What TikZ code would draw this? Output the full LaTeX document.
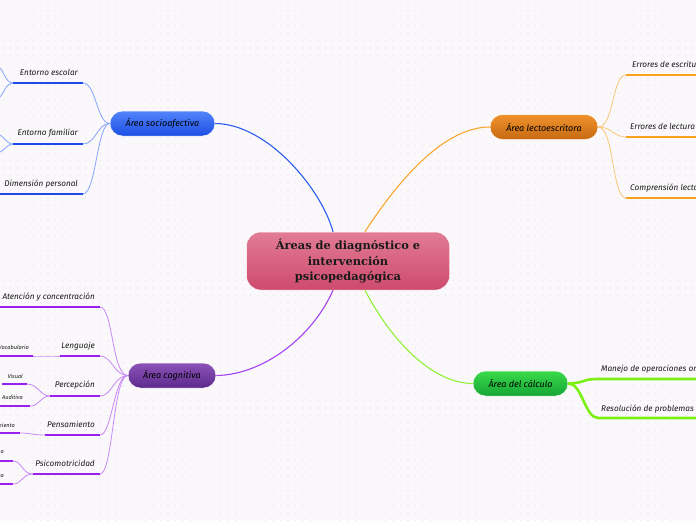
\documentclass[tikz,border=0pt]{standalone}
\usepackage{fontspec}
\setmainfont{DejaVu Serif}
\newfontfamily\hand{Fira Sans}
\usetikzlibrary{calc}
\definecolor{bgcol}{HTML}{FAF8FA}
\definecolor{dotcol}{HTML}{E6E2E6}
\definecolor{txt}{HTML}{1A1A1A}
\definecolor{ctop}{HTML}{E27C95}
\definecolor{cbot}{HTML}{CE4A6C}
\definecolor{btop}{HTML}{5384FA}
\definecolor{bbot}{HTML}{1C4EE4}
\definecolor{bconn}{HTML}{2C5CF0}
\definecolor{blite}{HTML}{84A4FF}
\definecolor{bline}{HTML}{1E4BE8}
\definecolor{otop}{HTML}{F0922C}
\definecolor{obot}{HTML}{C66A12}
\definecolor{oconn}{HTML}{F8A830}
\definecolor{olite}{HTML}{F8C878}
\definecolor{oline}{HTML}{F8A21E}
\definecolor{ptop}{HTML}{8C52B8}
\definecolor{pbot}{HTML}{5C2A8C}
\definecolor{pconn}{HTML}{A642F2}
\definecolor{plite}{HTML}{C888F8}
\definecolor{pline}{HTML}{9A20F0}
\definecolor{gtop}{HTML}{3ADA4A}
\definecolor{gbot}{HTML}{16A636}
\definecolor{gconn}{HTML}{90F038}
\definecolor{gline}{HTML}{7CF014}
\tikzset{
  lbl/.style={font=\hand\itshape\fontsize{8.2}{10}\selectfont, inner sep=0pt, text=txt},
  sublbl/.style={font=\hand\itshape\fontsize{5.6}{7}\selectfont, inner sep=0pt, text=txt},
  branch/.style={rounded corners=12.5pt, minimum height=25pt, inner sep=0pt,
    font=\hand\itshape\fontsize{9}{11}\selectfont, text=black, draw=white, line width=0.5pt},
  central/.style={rounded corners=14pt, minimum width=203pt, minimum height=58pt, inner sep=0pt,
    top color=ctop, bottom color=cbot, draw=white, line width=0.5pt, align=center,
    font=\bfseries\fontsize{11.4}{15.5}\selectfont, text=txt},
  conn/.style={line width=1.1pt},
  thin/.style={line width=0.8pt},
  uline/.style={line width=1.8pt},
  subline/.style={line width=1.5pt, pline},
}
\begin{document}
\begin{tikzpicture}[x=1pt,y=-1pt]
\useasboundingbox (0,0) rectangle (696,520);
\clip (0,0) rectangle (696,520);
\fill[bgcol] (0,0) rectangle (696,520);
\foreach \i in {0,...,92} \foreach \j in {0,...,69} \fill[dotcol] (\i*7.5+3,\j*7.5+3) circle (0.55);

% central and branch nodes
\node[central] (c) at (348,261) {Áreas de diagnóstico e\\intervención\\psicopedagógica};
\node[branch, minimum width=105pt, top color=btop, bottom color=bbot] (soc) at (162.5,123.5) {Área socioafectiva};
\node[branch, minimum width=108pt, top color=otop, bottom color=obot] (lec) at (544,127) {Área lectoescritora};
\node[branch, minimum width=88pt, top color=ptop, bottom color=pbot] (cog) at (172,375.5) {Área cognitiva};
\node[branch, minimum width=95pt, top color=gtop, bottom color=gbot] (cal) at (520.5,383.5) {Área del cálculo};

% main connectors
\draw[conn, bconn] ($(c.north)+(-15,0)$) .. controls (322,190) and (268,124) .. (soc.east);
\draw[conn, oconn] ($(c.north)+(17,0)$) .. controls (392,190) and (440,127) .. (lec.west);
\draw[conn, pconn] ($(c.south)+(-15,0)$) .. controls (312,338) and (262,375) .. (cog.east);
\draw[conn, gconn] ($(c.south)+(17,0)$) .. controls (390,338) and (430,383) .. (cal.west);

% ---- socioafectiva children
\node[lbl, anchor=base east] (s1) at (78,75) {Entorno escolar};
\node[lbl, anchor=base east] (s2) at (78,135) {Entorno familiar};
\node[lbl, anchor=base east] (s3) at (78,186) {Dimensión personal};
\coordinate (s1r) at (83,83); \coordinate (s1l) at (13,83);
\coordinate (s2r) at (83,144); \coordinate (s2l) at (13,144);
\coordinate (s3r) at (83,194); \coordinate (s3l) at (0,194);
\draw[thin, blite] (soc.west) .. controls (97,123.5) and (96,83) .. (s1r);
\draw[thin, blite] (soc.west) .. controls (97,123.5) and (96,144) .. (s2r);
\draw[thin, blite] (soc.west) .. controls (97,123.5) and (96,194) .. (s3r);
\draw[uline, bline] (s1l) -- (s1r);
\draw[uline, bline] (s2l) -- (s2r);
\draw[uline, bline] (s3l) -- (s3r);
\coordinate (s1a) at (0,68); \coordinate (s1b) at (0,97);
\coordinate (s2a) at (0,135); \coordinate (s2b) at (0,152);
\draw[thin, blite] (s1l) .. controls (6,83) and (4,72) .. (s1a);
\draw[thin, blite] (s1l) .. controls (6,83) and (4,93) .. (s1b);
\draw[thin, blite] (s2l) .. controls (7,144) and (4,137) .. (s2a);
\draw[thin, blite] (s2l) .. controls (7,144) and (4,151) .. (s2b);

% ---- lectoescritora children
\node[lbl, anchor=base west] (l1) at (632,67) {Errores de escritura};
\node[lbl, anchor=base west] (l2) at (630,129) {Errores de lectura};
\node[lbl, anchor=base west] (l3) at (630,190) {Comprensión lectora};
\coordinate (l1l) at (626,75); \coordinate (l1r) at (700,75);
\coordinate (l2l) at (626,137); \coordinate (l2r) at (700,137);
\coordinate (l3l) at (626,198); \coordinate (l3r) at (700,198);
\draw[thin, olite] (lec.east) .. controls (614,127) and (612,75) .. (l1l);
\draw[thin, olite] (lec.east) .. controls (612,127) and (614,137) .. (l2l);
\draw[thin, olite] (lec.east) .. controls (614,127) and (612,198) .. (l3l);
\draw[uline, oline] (l1l) -- (l1r);
\draw[uline, oline] (l2l) -- (l2r);
\draw[uline, oline] (l3l) -- (l3r);

% ---- calculo children
\node[lbl, anchor=base west] (k1) at (601,371) {Manejo de operaciones orales};
\node[lbl, anchor=base west] (k2) at (601,411) {Resolución de problemas};
\coordinate (k1l) at (598,379); \coordinate (k1r) at (700,379);
\coordinate (k2l) at (598,418); \coordinate (k2r) at (700,418);
\draw[line width=2.6pt, gline] (cal.east) .. controls (585,383) and (582,379) .. (k1l) -- (k1r);
\draw[line width=2.6pt, gline] (cal.east) .. controls (582,383) and (585,418) .. (k2l) -- (k2r);

% ---- cognitiva children
\node[lbl, anchor=base east] (g1) at (95,299) {Atención y concentración};
\node[lbl, anchor=base east] (g2) at (95,348) {Lenguaje};
\node[lbl, anchor=base east] (g3) at (95,387) {Percepción};
\node[lbl, anchor=base east] (g4) at (95,427) {Pensamiento};
\node[lbl, anchor=base east] (g5) at (95,466) {Psicomotricidad};
\coordinate (g1r) at (100,307); \coordinate (g1l) at (0,307);
\coordinate (g2r) at (100,356); \coordinate (g2l) at (60,356);
\coordinate (g3r) at (100,396); \coordinate (g3l) at (50,396);
\coordinate (g4r) at (100,435); \coordinate (g4l) at (45,435);
\coordinate (g5r) at (100,474); \coordinate (g5l) at (33,474);
\draw[thin, plite] (cog.west) .. controls (112,375.5) and (113,307) .. (g1r);
\draw[thin, plite] (cog.west) .. controls (114,375.5) and (112,356) .. (g2r);
\draw[thin, plite] (cog.west) .. controls (114,375.5) and (112,396) .. (g3r);
\draw[thin, plite] (cog.west) .. controls (114,375.5) and (112,435) .. (g4r);
\draw[thin, plite] (cog.west) .. controls (113,375.5) and (113,474) .. (g5r);
\draw[uline, pline] (g1l) -- (g1r);
\draw[uline, pline] (g2l) -- (g2r);
\draw[uline, pline] (g3l) -- (g3r);
\draw[uline, pline] (g4l) -- (g4r);
\draw[uline, pline] (g5l) -- (g5r);

% sub-children of cognitiva
\node[sublbl, anchor=base east] (v1) at (29,349) {Vocabulario};
\node[sublbl, anchor=base east] (v2) at (23,378) {Visual};
\node[sublbl, anchor=base east] (v3) at (23,399) {Auditiva};
\node[sublbl, anchor=base east] (v4) at (15,427) {Razonamiento};
\node[sublbl, anchor=base east] (v5) at (4,453) {Motricidad fina};
\node[sublbl, anchor=base east] (v6) at (4,477) {Motricidad gruesa};
\coordinate (v1r) at (33,356); \coordinate (v1l) at (0,356);
\coordinate (v2r) at (27,384); \coordinate (v2l) at (2,384);
\coordinate (v3r) at (30,406); \coordinate (v3l) at (0,406);
\coordinate (v4r) at (20,433); \coordinate (v4l) at (0,433);
\coordinate (v5r) at (13,461); \coordinate (v5l) at (0,461);
\coordinate (v6r) at (13,484); \coordinate (v6l) at (0,484);
\draw[subline] (v1l) -- (v1r);
\draw[subline] (v2l) -- (v2r);
\draw[subline] (v3l) -- (v3r);
\draw[subline] (v4l) -- (v4r);
\draw[subline] (v5l) -- (v5r);
\draw[subline] (v6l) -- (v6r);
\draw[thin, plite] (g2l) .. controls (48,356) and (45,356) .. (v1r);
\draw[thin, plite] (g3l) .. controls (40,396) and (38,384) .. (v2r);
\draw[thin, plite] (g3l) .. controls (40,396) and (40,406) .. (v3r);
\draw[thin, plite] (g4l) .. controls (33,435) and (30,433) .. (v4r);
\draw[thin, plite] (g5l) .. controls (22,474) and (22,461) .. (v5r);
\draw[thin, plite] (g5l) .. controls (22,474) and (22,484) .. (v6r);
\end{tikzpicture}
\end{document}
